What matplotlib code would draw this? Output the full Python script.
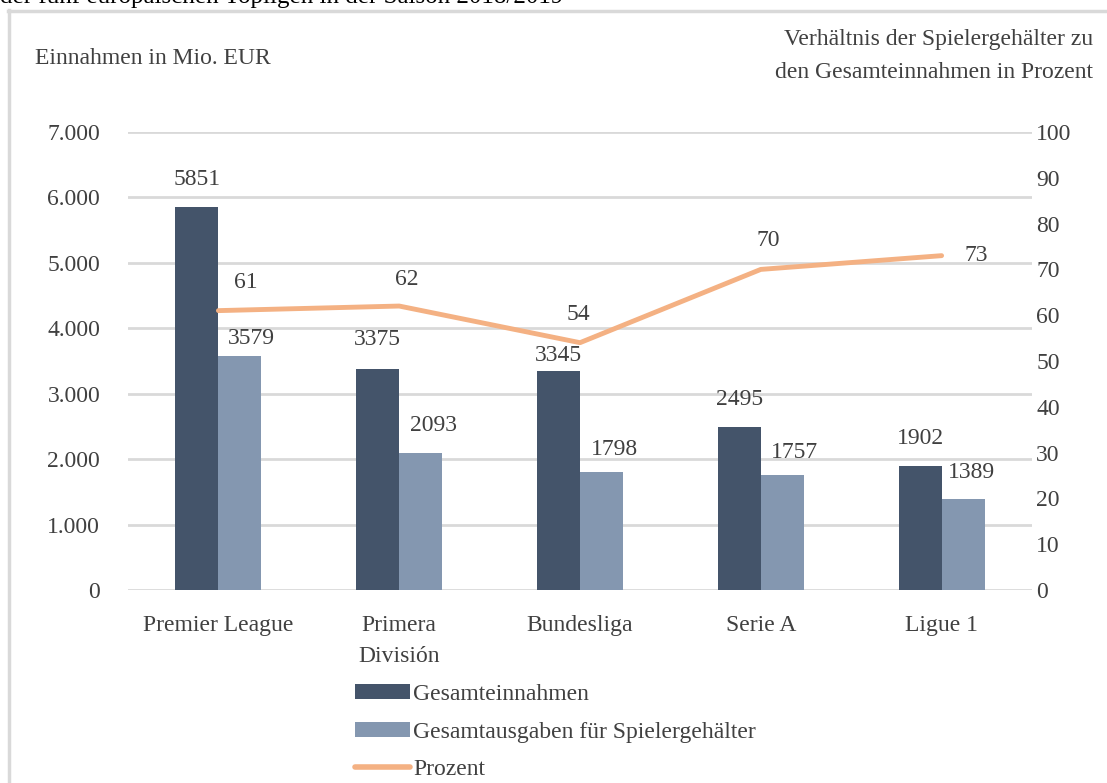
import matplotlib
matplotlib.use("Agg")
import matplotlib.pyplot as plt
from matplotlib.lines import Line2D
from matplotlib.patches import Patch
import numpy as np

categories = ["Premier League", "Primera\nDivisión", "Bundesliga", "Serie A", "Ligue 1"]
einnahmen = [5851, 3375, 3345, 2495, 1902]
gehaelter = [3579, 2093, 1798, 1757, 1389]
prozent = [61, 62, 54, 70, 73]
left_ticks = [0, 1000, 2000, 3000, 4000, 5000, 6000, 7000]
left_ticklabels = ["0", "1.000", "2.000", "3.000", "4.000", "5.000", "6.000", "7.000"]
right_ticks = [0, 10, 20, 30, 40, 50, 60, 70, 80, 90, 100]

DARK = "#44546A"
LIGHT = "#8497B0"
ORANGE = "#F4B183"
TXT = "#404040"
GRID = "#D9D9D9"
FONT = "Liberation Serif"
FS = 17

plt.rcParams["font.family"] = [FONT, "DejaVu Serif"]
plt.rcParams["text.color"] = TXT

fig = plt.figure(figsize=(11.07, 7.83), dpi=100)
ax = fig.add_axes([128/1107, 1-590/783, (1032-128)/1107, (590-132)/783])
ax2 = ax.twinx()

x = np.arange(len(categories))
w = 0.238
ax.bar(x - w/2, einnahmen, width=w, color=DARK, zorder=2)
ax.bar(x + w/2, gehaelter, width=w, color=LIGHT, zorder=2)

ax.set_xlim(-0.5, len(categories) - 0.5)
ax.set_ylim(0, 7000)
ax.set_yticks(left_ticks)
ax.set_yticklabels(left_ticklabels)
ax.set_xticks(x)
ax.set_xticklabels(categories, linespacing=1.6)
ax.grid(axis="y", color=GRID, linewidth=2, zorder=0)
ax.set_axisbelow(True)
for s in ax.spines.values():
    s.set_visible(False)
for s in ax2.spines.values():
    s.set_visible(False)
ax.tick_params(axis="both", length=0, labelsize=FS, labelcolor=TXT)
ax.tick_params(axis="y", pad=20)
ax.tick_params(axis="x", pad=18)

ax2.plot(x, prozent, color=ORANGE, linewidth=3.5, solid_capstyle="round", zorder=3)
ax2.set_ylim(0, 100)
ax2.set_yticks(right_ticks)
ax2.tick_params(axis="y", length=0, labelsize=FS, labelcolor=TXT, pad=3)

# bar labels (offsets in pixels)
dark_dy = [28, 30, 16, 27, 27]
light_dy = [17, 28, 23, 23, 27]
light_dx = [11, 13, 13, 12, 8]
for i in range(len(categories)):
    ax.annotate(str(einnahmen[i]), (x[i] - w/2, einnahmen[i]), xytext=(0, dark_dy[i]),
                textcoords="offset pixels", ha="center", va="center", fontsize=FS, color=TXT)
    ax.annotate(str(gehaelter[i]), (x[i] + w/2, gehaelter[i]), xytext=(light_dx[i], light_dy[i]),
                textcoords="offset pixels", ha="center", va="center", fontsize=FS, color=TXT)

# percent labels (offsets in pixels)
p_dx = [27, 8, -2, 7, 35]
p_dy = [28, 27, 28, 29, 0]
for i in range(len(categories)):
    ax2.annotate(str(prozent[i]), (x[i], prozent[i]), xytext=(p_dx[i], p_dy[i]),
                 textcoords="offset pixels", ha="center", va="center", fontsize=FS, color=TXT)

# axis titles
fig.text(35/1107, 1-58/783, "Einnahmen in Mio. EUR", ha="left", va="center", fontsize=FS, color=TXT)
fig.text(1093/1107, 1-39/783, "Verhältnis der Spielergehälter zu", ha="right", va="center", fontsize=FS, color=TXT)
fig.text(1093/1107, 1-73/783, "den Gesamteinnahmen in Prozent", ha="right", va="center", fontsize=FS, color=TXT)

# partially visible title at top
fig.text(0, 1-3/783, "der fünf europäischen Topligen in der Saison 2018/2019", ha="left",
         va="baseline", fontsize=18, color="black")

# frame of the chart area
fig.add_artist(Line2D([9/1107, 9/1107], [0, 1-10/783], transform=fig.transFigure, color=GRID, linewidth=2.5))
fig.add_artist(Line2D([8/1107, 1], [1-11/783, 1-11/783], transform=fig.transFigure, color=GRID, linewidth=2.5))

handles = [Patch(facecolor=DARK), Patch(facecolor=LIGHT),
           Line2D([0], [0], color=ORANGE, linewidth=4, solid_capstyle="round")]
labels = ["Gesamteinnahmen", "Gesamtausgaben für Spielergehälter", "Prozent"]
fig.legend(handles, labels, loc="upper left", bbox_to_anchor=(355/1107, 1-684/783),
           frameon=False, fontsize=FS, handlelength=2.35, handleheight=0.62,
           handletextpad=0.12, labelspacing=0.7, borderaxespad=0, borderpad=0)

fig.savefig("out.png", dpi=100)
